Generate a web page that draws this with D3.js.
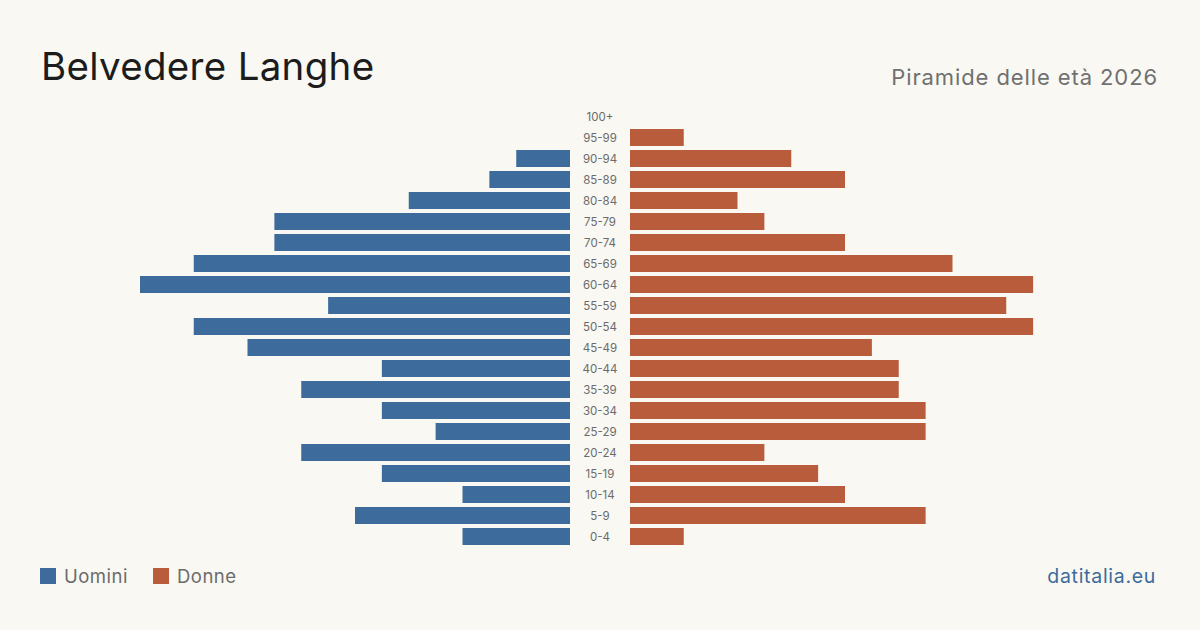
<!DOCTYPE html>
<html><head><meta charset="utf-8">
<script src="https://cdn.jsdelivr.net/npm/d3@7"></script>
<style>html,body{margin:0;padding:0;background:#f9f8f3;}svg{display:block;font-family:Inter,"Noto Sans",sans-serif;}</style>
</head><body>
<svg id="c" width="1200" height="630"></svg>
<script>
const ageGroups = ["100+","95-99","90-94","85-89","80-84","75-79","70-74","65-69","60-64","55-59","50-54","45-49","40-44","35-39","30-34","25-29","20-24","15-19","10-14","5-9","0-4"];
const men   = [0,0,2,3,6,11,11,14,16,9,14,12,7,10,7,5,10,7,4,8,4];
const women = [0,2,6,8,4,5,8,12,15,14,15,9,10,10,11,11,5,7,8,11,2];
const legendLabels = ["Uomini","Donne"];
const colors = ["#3c6b9c","#b95c3c"];

const svg = d3.select("#c");
svg.append("rect").attr("width",1200).attr("height",630).attr("fill","#f9f8f3");

const y = d3.scaleBand().domain(ageGroups).range([108,545]).paddingInner(4/21).paddingOuter(0);
const xL = d3.scaleLinear().domain([0,16]).range([570,140]);
const xR = d3.scaleLinear().domain([0,16]).range([630,1060]);

svg.append("g").selectAll("rect").data(ageGroups).join("rect")
  .attr("x",(d,i)=>xL(men[i])).attr("y",d=>y(d))
  .attr("width",(d,i)=>xL(0)-xL(men[i])).attr("height",y.bandwidth())
  .attr("fill",colors[0]);
svg.append("g").selectAll("rect").data(ageGroups).join("rect")
  .attr("x",xR(0)).attr("y",d=>y(d))
  .attr("width",(d,i)=>xR(women[i])-xR(0)).attr("height",y.bandwidth())
  .attr("fill",colors[1]);

svg.append("g").selectAll("text").data(ageGroups).join("text")
  .attr("x",600).attr("y",d=>y(d)+y.bandwidth()/2).attr("dy","0.35em")
  .attr("text-anchor","middle").attr("font-size",11.5).attr("fill","#6b6b6b").text(d=>d);

svg.append("text").attr("x",41).attr("y",80).attr("font-size",38.5).attr("fill","#1c1c1c")
  .attr("letter-spacing","0.3px").text("Belvedere Langhe");
svg.append("text").attr("x",1158).attr("y",85).attr("text-anchor","end").attr("font-size",22)
  .attr("letter-spacing","0.9px").attr("fill","#707070").text("Piramide delle età 2026");

const lg = svg.append("g");
const lx = [40,153];
legendLabels.forEach((l,i)=>{
  lg.append("rect").attr("x",lx[i]).attr("y",568).attr("width",16).attr("height",16).attr("fill",colors[i]);
  lg.append("text").attr("x",lx[i]+24).attr("y",583).attr("font-size",18.5).attr("letter-spacing","0.5px").attr("fill","#6b6b6b").text(l);
});
svg.append("text").attr("x",1156).attr("y",583).attr("text-anchor","end").attr("font-size",19.5)
  .attr("letter-spacing","0.7px").attr("fill","#3c6b9c").text("datitalia.eu");
</script>
</body></html>
